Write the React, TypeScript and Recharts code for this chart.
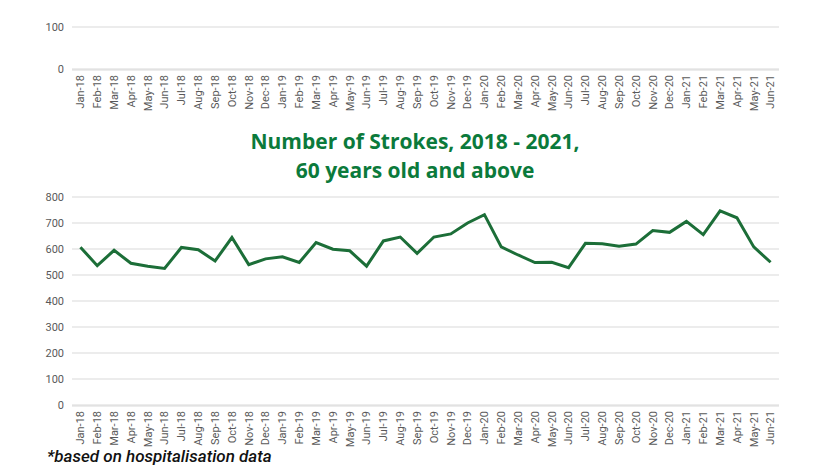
import * as React from "react";
import { LineChart, Line, XAxis, YAxis, CartesianGrid } from "recharts";

const months = [
  "Jan-18", "Feb-18", "Mar-18", "Apr-18", "May-18", "Jun-18", "Jul-18", "Aug-18", "Sep-18", "Oct-18", "Nov-18", "Dec-18",
  "Jan-19", "Feb-19", "Mar-19", "Apr-19", "May-19", "Jun-19", "Jul-19", "Aug-19", "Sep-19", "Oct-19", "Nov-19", "Dec-19",
  "Jan-20", "Feb-20", "Mar-20", "Apr-20", "May-20", "Jun-20", "Jul-20", "Aug-20", "Sep-20", "Oct-20", "Nov-20", "Dec-20",
  "Jan-21", "Feb-21", "Mar-21", "Apr-21", "May-21", "Jun-21",
];

const strokes = [
  607, 536, 595, 545, 534, 525, 606, 597, 554, 644, 540, 562,
  570, 548, 625, 599, 593, 534, 631, 646, 583, 646, 658, 700,
  732, 608, 577, 548, 549, 528, 622, 620, 611, 619, 671, 664,
  706, 655, 747, 720, 608, 549,
];

const topTicks = [0, 100];
const mainTicks = [0, 100, 200, 300, 400, 500, 600, 700, 800];
// band edges for the little tick marks between months
const bandEdges = months.map((_, i) => i).concat(months.length);

const data = months.map((m, i) => ({ month: m, strokes: strokes[i] }));
// top chart is only the cut-off bottom of a previous chart: axes, no visible line
const emptyData = months.map((m) => ({ month: m, strokes: null }));

const GRID = "#d9d9d9";
const TEXT = "#595959";
const FONT = "Roboto, sans-serif";
const HALF_BAND = 8.42;

function MonthTick(props) {
  const { x, y, payload } = props;
  return (
    <text
      x={0}
      y={0}
      transform={`translate(${x},${y}) rotate(-90)`}
      textAnchor="end"
      dy="0.35em"
      fontSize={11}
      fill={TEXT}
      fontFamily={FONT}
    >
      {payload.value}
    </text>
  );
}

function Axes({ domain, ticks }) {
  return [
    <CartesianGrid key="g" vertical={false} stroke={GRID} />,
    <XAxis
      key="e"
      xAxisId="edges"
      type="number"
      domain={[0, months.length]}
      ticks={bandEdges}
      allowDataOverflow
      tick={false}
      tickSize={3}
      tickLine={{ stroke: GRID }}
      axisLine={{ stroke: GRID }}
      height={1}
    />,
    <XAxis
      key="m"
      dataKey="month"
      interval={0}
      padding={{ left: HALF_BAND, right: HALF_BAND }}
      axisLine={false}
      tickLine={false}
      tickSize={0}
      tickMargin={6}
      tick={<MonthTick />}
      height={1}
    />,
    <YAxis
      key="y"
      type="number"
      domain={domain}
      ticks={ticks}
      interval={0}
      allowDataOverflow
      width={72}
      axisLine={false}
      tickLine={false}
      tick={{ fontSize: 11, fill: TEXT, fontFamily: FONT }}
    />,
  ];
}

export default function App() {
  return (
    <div style={{ position: "absolute", left: 0, top: 0, width: 830, height: 468, background: "#fff", overflow: "hidden" }}>
      <div style={{ position: "absolute", left: 0, top: 0 }}>
        <LineChart width={830} height={114} data={emptyData} margin={{ top: 27, right: 51, bottom: 43, left: 0 }}>
          {Axes({ domain: [0, 100], ticks: topTicks })}
          <Line dataKey="strokes" stroke="#1c6e38" strokeWidth={3} dot={false} isAnimationActive={false} />
        </LineChart>
      </div>
      <div
        style={{
          position: "absolute",
          left: 0,
          top: 127,
          width: 830,
          textAlign: "center",
          fontFamily: "'Open Sans', sans-serif",
          fontWeight: 700,
          fontSize: 21,
          lineHeight: "29px",
          color: "#0b7a3b",
        }}
      >
        Number of Strokes, 2018 - 2021,
        <br />
        60 years old and above
      </div>
      <div style={{ position: "absolute", left: 0, top: 0 }}>
        <LineChart width={830} height={468} data={data} margin={{ top: 197, right: 51, bottom: 61, left: 0 }}>
          {Axes({ domain: [0, 800], ticks: mainTicks })}
          <Line
            type="linear"
            dataKey="strokes"
            stroke="#1c6e38"
            strokeWidth={3}
            dot={false}
            isAnimationActive={false}
          />
        </LineChart>
      </div>
      <div
        style={{
          position: "absolute",
          left: 47,
          top: 446,
          fontFamily: FONT,
          fontStyle: "italic",
          fontWeight: 500,
          fontSize: 17,
          lineHeight: "20px",
          color: "#111",
        }}
      >
        *based on hospitalisation data
      </div>
    </div>
  );
}
